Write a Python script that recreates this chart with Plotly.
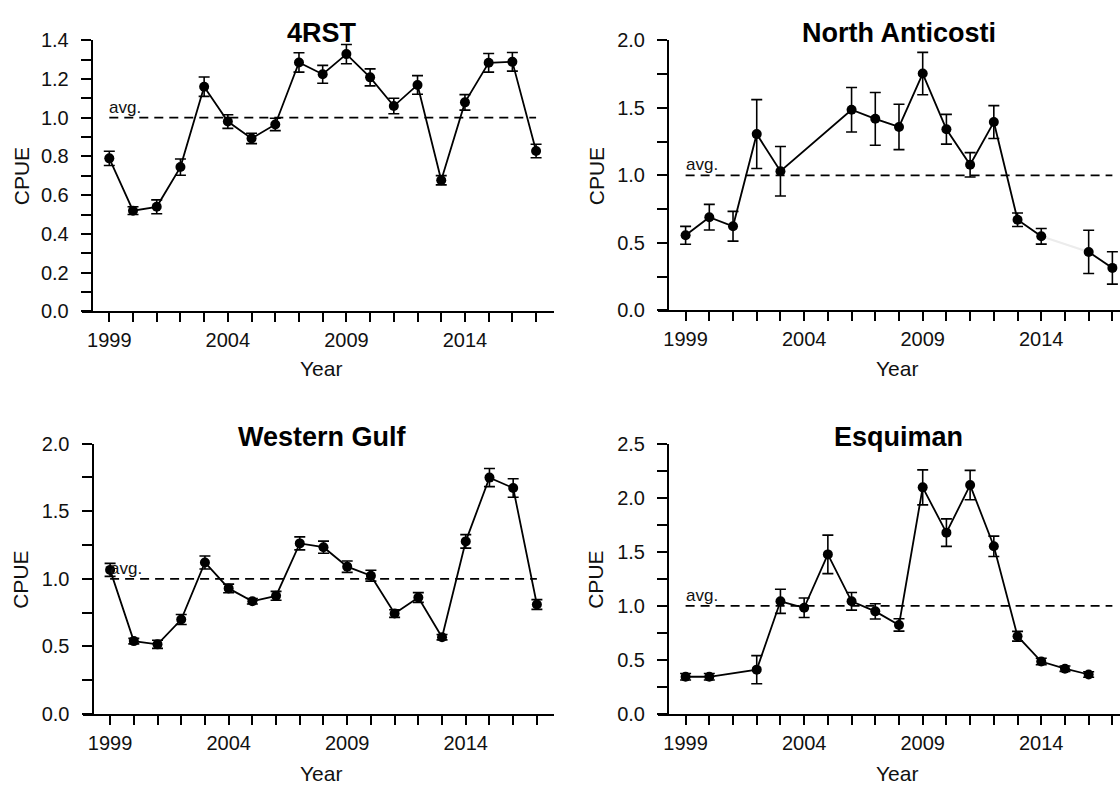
import plotly.graph_objects as go

YEARS = list(range(1999, 2018))
AVG = 1.0

RST_CPUE = [0.79, 0.52, 0.54, 0.745, 1.16, 0.98, 0.893, 0.965, 1.285, 1.224,
            1.328, 1.208, 1.06, 1.169, 0.677, 1.079, 1.283, 1.288, 0.828]
RST_ERR = [0.037, 0.02, 0.036, 0.042, 0.05, 0.035, 0.027, 0.032, 0.05, 0.046,
           0.05, 0.044, 0.04, 0.048, 0.024, 0.04, 0.048, 0.048, 0.035]

NA_CPUE = [0.556, 0.69, 0.623, 1.305, 1.03, None, None, 1.485, 1.418, 1.358,
           1.753, 1.341, 1.078, 1.394, 0.671, 0.549, None, 0.433, 0.315]
NA_ERR = [0.066, 0.095, 0.11, 0.255, 0.183, None, None, 0.165, 0.195, 0.168,
          0.157, 0.11, 0.09, 0.122, 0.05, 0.058, None, 0.16, 0.12]

WG_CPUE = [1.066, 0.539, 0.515, 0.699, 1.121, 0.929, 0.834, 0.874, 1.262, 1.234,
           1.09, 1.023, 0.743, 0.862, 0.568, 1.277, 1.749, 1.672, 0.81]
WG_ERR = [0.048, 0.02, 0.03, 0.037, 0.048, 0.032, 0.02, 0.033, 0.048, 0.045,
          0.042, 0.04, 0.028, 0.036, 0.02, 0.05, 0.067, 0.068, 0.036]

ESQ_CPUE = [0.344, 0.344, None, 0.41, 1.042, 0.982, 1.476, 1.042, 0.949, 0.823,
            2.096, 1.677, 2.117, 1.551, 0.719, 0.485, 0.419, 0.365, None]
ESQ_ERR = [0.03, 0.03, None, 0.13, 0.112, 0.09, 0.178, 0.082, 0.07, 0.057,
           0.162, 0.127, 0.136, 0.094, 0.045, 0.03, 0.025, 0.025, None]

TITLES = ["4RST", "North Anticosti", "Western Gulf", "Esquiman"]
X_TICK_LABEL_YEARS = [1999, 2004, 2009, 2014]

W, H = 1120, 794
FONT = "Liberation Sans, Arial, sans-serif"

panels = [
    dict(title=TITLES[0], cpue=RST_CPUE, err=RST_ERR, bridge=[],
         ymax=1.4, ystep=0.1, ylab_every=2,
         left=81.7, right=553.6, yaxis_px=91.7, top=30, bottom=309,
         title_xy=(322, 23), cpue_xy=(21, 170), year_xy=(321, 368)),
    dict(title=TITLES[1], cpue=NA_CPUE, err=NA_ERR, bridge=[2004, 2005],
         ymax=2.0, ystep=0.25, ylab_every=2,
         left=658, right=1120, yaxis_px=668, top=30, bottom=308,
         title_xy=(899, 23), cpue_xy=(596, 170), year_xy=(897, 368)),
    dict(title=TITLES[2], cpue=WG_CPUE, err=WG_ERR, bridge=[],
         ymax=2.0, ystep=0.25, ylab_every=2,
         left=82.5, right=553.6, yaxis_px=92.5, top=445, bottom=723,
         title_xy=(322, 438), cpue_xy=(21, 585), year_xy=(321, 784)),
    dict(title=TITLES[3], cpue=ESQ_CPUE, err=ESQ_ERR, bridge=[2001, 2017],
         ymax=2.5, ystep=0.25, ylab_every=2,
         left=658, right=1120, yaxis_px=668, top=445, bottom=723,
         title_xy=(898, 438), cpue_xy=(596, 585), year_xy=(897, 784)),
]

PX_PER_YEAR = 23.71

fig = go.Figure()
annotations = []
layout = dict(width=W, height=H, margin=dict(l=0, r=0, t=0, b=0, pad=0),
              paper_bgcolor="white", plot_bgcolor="white", showlegend=False,
              font=dict(family=FONT, color="black"))

for i, p in enumerate(panels, start=1):
    xa = "x" if i == 1 else f"x{i}"
    ya = "y" if i == 1 else f"y{i}"
    xkey = "xaxis" if i == 1 else f"xaxis{i}"
    ykey = "yaxis" if i == 1 else f"yaxis{i}"

    x1999_px = p["yaxis_px"] + 17.6
    x0 = YEARS[0] - (x1999_px - p["left"]) / PX_PER_YEAR
    x1 = YEARS[0] + (p["right"] - x1999_px) / PX_PER_YEAR

    # faint connector across non-bridged gaps
    has_gap = any(v is None and yr not in p["bridge"] for yr, v in zip(YEARS, p["cpue"]))
    if has_gap:
        fx = [yr for yr, v in zip(YEARS, p["cpue"]) if v is not None]
        fy = [v for v in p["cpue"] if v is not None]
        fig.add_trace(go.Scatter(x=fx, y=fy, mode="lines", xaxis=xa, yaxis=ya,
                                 line=dict(color="#ececec", width=2),
                                 hoverinfo="skip"))

    # average line
    fig.add_trace(go.Scatter(x=[YEARS[0], YEARS[-1]], y=[AVG, AVG], mode="lines",
                             xaxis=xa, yaxis=ya,
                             line=dict(color="black", width=1.8, dash="9px,6px"),
                             hoverinfo="skip"))

    mx, my, me = [], [], []
    for yr, v, e in zip(YEARS, p["cpue"], p["err"]):
        if v is None and yr in p["bridge"]:
            continue
        mx.append(yr)
        my.append(v)
        me.append(e if e is not None else 0)
    fig.add_trace(go.Scatter(x=mx, y=my, mode="lines+markers", xaxis=xa, yaxis=ya,
                             connectgaps=False,
                             line=dict(color="black", width=1.8),
                             marker=dict(color="black", size=10),
                             error_y=dict(type="data", array=me, visible=True,
                                          color="black", thickness=1.6, width=5.5)))

    nt = int(round(p["ymax"] / p["ystep"]))
    yvals = [round(k * p["ystep"], 4) for k in range(nt + 1)]
    ytext = [f"{v:.1f}" if k % p["ylab_every"] == 0 else "" for k, v in enumerate(yvals)]

    layout[xkey] = dict(domain=[p["left"] / W, p["right"] / W], range=[x0, x1],
                        anchor=ya, showgrid=False, zeroline=False,
                        showline=True, linecolor="black", linewidth=2,
                        ticks="outside", ticklen=9, tickwidth=2, tickcolor="black",
                        tickvals=YEARS,
                        ticktext=[str(y) if y in X_TICK_LABEL_YEARS else "" for y in YEARS],
                        tickfont=dict(size=20, family=FONT, color="#111111"),
                        ticklabelstandoff=1)
    layout[ykey] = dict(domain=[1 - p["bottom"] / H, 1 - p["top"] / H],
                        range=[0, p["ymax"]], anchor="free",
                        position=p["yaxis_px"] / W,
                        showgrid=False, zeroline=False,
                        showline=True, linecolor="black", linewidth=2,
                        ticks="outside", ticklen=10, tickwidth=2, tickcolor="black",
                        tickvals=yvals, ticktext=ytext,
                        tickfont=dict(size=20, family=FONT, color="#111111"),
                        ticklabelstandoff=8)

    tx, ty = p["title_xy"]
    annotations.append(dict(text=f"<b>{p['title']}</b>", xref="paper", yref="paper",
                            x=tx / W, y=1 - ty / H, xanchor="center", yanchor="middle",
                            showarrow=False,
                            font=dict(size=27, family=FONT, color="black")))
    cx, cy = p["cpue_xy"]
    annotations.append(dict(text="CPUE", xref="paper", yref="paper",
                            x=cx / W, y=1 - cy / H, xanchor="center", yanchor="middle",
                            textangle=-90, showarrow=False,
                            font=dict(size=21, family=FONT, color="#111111")))
    yx, yy = p["year_xy"]
    annotations.append(dict(text="Year", xref="paper", yref="paper",
                            x=yx / W, y=1 - yy / H, xanchor="center", yanchor="middle",
                            showarrow=False,
                            font=dict(size=21, family=FONT, color="#111111")))
    annotations.append(dict(text="avg.", xref=xa, yref=ya, x=YEARS[0], y=AVG,
                            xanchor="left", yanchor="bottom", yshift=-1, xshift=-2,
                            showarrow=False,
                            font=dict(size=17, family=FONT, color="#111111")))

layout["annotations"] = annotations
fig.update_layout(**layout)
fig.write_html("out.html", config={"displayModeBar": False})
